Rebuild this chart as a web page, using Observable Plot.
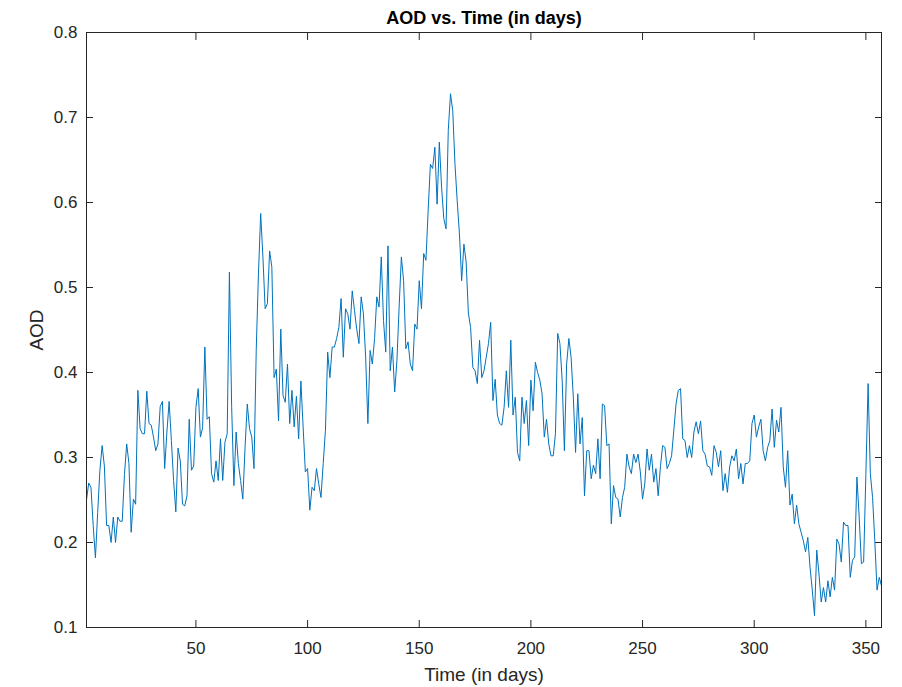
<!DOCTYPE html>
<html>
<head>
<meta charset="utf-8">
<script src="https://cdn.jsdelivr.net/npm/d3@7"></script>
<script src="https://cdn.jsdelivr.net/npm/@observablehq/plot@0.6"></script>
<style>
  html, body { margin: 0; padding: 0; background: #fff; }
</style>
</head>
<body>
<div id="chart"></div>
<script>
const title = "AOD vs. Time (in days)";
const xLabel = "Time (in days)";
const yLabel = "AOD";
const xDomain = [1, 357];
const yDomain = [0.1, 0.8];
const xTicks = [50, 100, 150, 200, 250, 300, 350];
const yTicks = [0.1, 0.2, 0.3, 0.4, 0.5, 0.6, 0.7, 0.8];

// daily AOD values, day 1 .. day 357
const aod = [
  0.25, 0.27, 0.265, 0.22, 0.182, 0.235, 0.285, 0.314, 0.29, 0.22,
  0.22, 0.2, 0.23, 0.2, 0.23, 0.225, 0.225, 0.28, 0.316, 0.293,
  0.212, 0.251, 0.245, 0.379, 0.334, 0.328, 0.328, 0.378, 0.34, 0.338,
  0.324, 0.308, 0.316, 0.36, 0.366, 0.287, 0.33, 0.366, 0.32, 0.273,
  0.236, 0.311, 0.296, 0.245, 0.243, 0.255, 0.345, 0.285, 0.29, 0.359,
  0.381, 0.324, 0.335, 0.43, 0.345, 0.348, 0.281, 0.271, 0.296, 0.273,
  0.322, 0.273, 0.318, 0.328, 0.518, 0.36, 0.267, 0.33, 0.293, 0.273,
  0.251, 0.312, 0.363, 0.334, 0.324, 0.287, 0.426, 0.516, 0.587, 0.536,
  0.475, 0.481, 0.543, 0.524, 0.394, 0.404, 0.343, 0.451, 0.373, 0.365,
  0.41, 0.34, 0.379, 0.336, 0.372, 0.322, 0.39, 0.336, 0.283, 0.287,
  0.238, 0.265, 0.261, 0.287, 0.269, 0.253, 0.293, 0.332, 0.424, 0.394,
  0.43, 0.43, 0.44, 0.453, 0.487, 0.418, 0.475, 0.469, 0.451, 0.496,
  0.473, 0.451, 0.434, 0.489, 0.469, 0.418, 0.34, 0.426, 0.41, 0.44,
  0.489, 0.477, 0.536, 0.461, 0.424, 0.549, 0.402, 0.43, 0.377, 0.414,
  0.477, 0.536, 0.508, 0.428, 0.436, 0.41, 0.402, 0.457, 0.451, 0.508,
  0.475, 0.54, 0.532, 0.591, 0.645, 0.64, 0.665, 0.598, 0.671, 0.618,
  0.581, 0.569, 0.685, 0.728, 0.708, 0.645, 0.602, 0.563, 0.508, 0.551,
  0.53, 0.47, 0.453, 0.406, 0.402, 0.387, 0.438, 0.394, 0.402, 0.418,
  0.434, 0.459, 0.367, 0.392, 0.35, 0.34, 0.338, 0.359, 0.402, 0.359,
  0.438, 0.35, 0.371, 0.306, 0.296, 0.371, 0.34, 0.367, 0.314, 0.391,
  0.355, 0.412, 0.4, 0.391, 0.375, 0.324, 0.345, 0.316, 0.302, 0.302,
  0.328, 0.446, 0.434, 0.391, 0.308, 0.41, 0.44, 0.418, 0.371, 0.306,
  0.375, 0.316, 0.347, 0.255, 0.308, 0.308, 0.275, 0.291, 0.281, 0.322,
  0.275, 0.363, 0.361, 0.314, 0.316, 0.222, 0.267, 0.253, 0.251, 0.23,
  0.253, 0.265, 0.304, 0.289, 0.281, 0.304, 0.294, 0.304, 0.283, 0.251,
  0.269, 0.31, 0.285, 0.304, 0.271, 0.287, 0.255, 0.289, 0.314, 0.312,
  0.287, 0.293, 0.302, 0.332, 0.363, 0.379, 0.381, 0.322, 0.32, 0.3,
  0.314, 0.3, 0.33, 0.342, 0.328, 0.343, 0.308, 0.304, 0.29, 0.289,
  0.279, 0.314, 0.306, 0.289, 0.308, 0.261, 0.281, 0.259, 0.289, 0.302,
  0.296, 0.31, 0.275, 0.293, 0.269, 0.293, 0.293, 0.296, 0.34, 0.35,
  0.324, 0.336, 0.345, 0.308, 0.296, 0.312, 0.32, 0.357, 0.312, 0.344,
  0.33, 0.359, 0.289, 0.265, 0.308, 0.244, 0.257, 0.222, 0.244, 0.222,
  0.212, 0.202, 0.189, 0.206, 0.171, 0.144, 0.114, 0.191, 0.163, 0.13,
  0.147, 0.13, 0.155, 0.136, 0.159, 0.144, 0.204, 0.198, 0.177, 0.224,
  0.22, 0.22, 0.159, 0.179, 0.183, 0.277, 0.23, 0.175, 0.177, 0.28,
  0.387, 0.281, 0.253, 0.202, 0.144, 0.159, 0.149
];

const axisColor = "#262626";
const noText = () => "";

const chart = Plot.plot({
  width: 902,
  height: 687,
  marginLeft: 86,
  marginRight: 21,
  marginTop: 32,
  marginBottom: 60,
  style: {
    fontFamily: "'Liberation Sans', Arial, Helvetica, sans-serif",
    fontSize: "17px",
    color: axisColor,
    background: "#fff"
  },
  x: { domain: xDomain },
  y: { domain: yDomain },
  marks: [
    // tick labels
    Plot.axisX(xTicks, { anchor: "bottom", tickSize: 0, tickPadding: 14, label: null }),
    Plot.axisY(yTicks, { anchor: "left", tickSize: 0, tickPadding: 9, tickFormat: ".1f", label: null }),
    // inward tick marks on all four sides
    Plot.axisX(xTicks, { anchor: "bottom", tickSize: 7, dy: -7, tickFormat: noText, label: null }),
    Plot.axisX(xTicks, { anchor: "top", tickSize: 7, dy: 7, tickFormat: noText, label: null }),
    Plot.axisY(yTicks, { anchor: "left", tickSize: 7, dx: 7, tickFormat: noText, label: null }),
    Plot.axisY(yTicks, { anchor: "right", tickSize: 7, dx: -7, tickFormat: noText, label: null }),
    // data line
    Plot.lineY(aod, { x: (d, i) => i + 1, y: d => d, stroke: "#0072BD", strokeWidth: 1 }),
    Plot.frame({ stroke: axisColor, strokeWidth: 1 }),
    // title and axis labels
    Plot.text([title], { frameAnchor: "top", dy: -14, lineAnchor: "middle", textAnchor: "middle", fontWeight: "bold", fontSize: 18, fill: "#000" }),
    Plot.text([xLabel], { frameAnchor: "bottom", dy: 47, lineAnchor: "middle", textAnchor: "middle", fontSize: 19 }),
    Plot.text([yLabel], { frameAnchor: "left", dx: -50, rotate: -90, lineAnchor: "middle", textAnchor: "middle", fontSize: 19 })
  ]
});

document.getElementById("chart").appendChild(chart);
</script>
</body>
</html>
